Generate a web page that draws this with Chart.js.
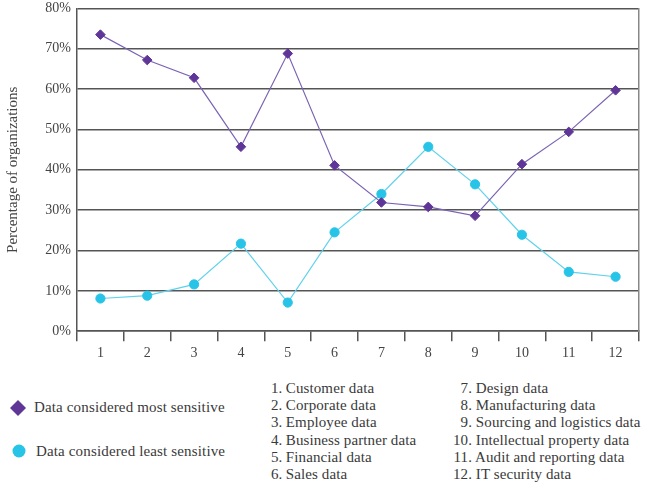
<!DOCTYPE html>
<html>
<head>
<meta charset="utf-8">
<script src="https://cdn.jsdelivr.net/npm/chart.js@4"></script>
<style>
  body { margin: 0; background: #fff; font-family: "Liberation Serif", serif; color: #3a3a3a; overflow: hidden; }
  #wrap { position: relative; width: 645px; height: 492px; overflow: hidden; }
  #chartBox { position: absolute; left: 0; top: -6px; width: 645px; height: 372px; }
  .leg { position: absolute; font-size: 15px; letter-spacing: 0.15px; white-space: nowrap; line-height: 18px; }
  .mark { position: absolute; }
  .list { position: absolute; font-size: 15px; letter-spacing: 0.1px; line-height: 17.2px; white-space: nowrap; }
  .list .n { display: inline-block; text-align: right; }
</style>
</head>
<body>
<div id="wrap">
  <div id="chartBox"><canvas id="chart"></canvas></div>
  <div id="legend"></div>
  <div id="list1" class="list" style="left:271px; top:380px;"></div>
  <div id="list2" class="list" style="left:451px; top:380px;"></div>
</div>
<script>
const categories = ['1', '2', '3', '4', '5', '6', '7', '8', '9', '10', '11', '12'];
const categoryNames = ['Customer data', 'Corporate data', 'Employee data', 'Business partner data',
  'Financial data', 'Sales data', 'Design data', 'Manufacturing data',
  'Sourcing and logistics data', 'Intellectual property data', 'Audit and reporting data', 'IT security data'];
const mostSensitive = [73.5, 67.2, 62.8, 45.7, 68.8, 41.1, 31.9, 30.8, 28.6, 41.4, 49.4, 59.7];
const leastSensitive = [8.1, 8.8, 11.6, 21.7, 7.1, 24.5, 34.0, 45.7, 36.4, 23.9, 14.7, 13.5];
const yTicks = [0, 10, 20, 30, 40, 50, 60, 70, 80];

const purple = '#5f3597';
const cyan = '#27c4e8';

// category list under the chart
function fillList(id, from, to, numWidth) {
  let html = '';
  for (let i = from; i < to; i++) {
    html += `<div><span class="n" style="width:${numWidth}px">${i + 1}.</span> ${categoryNames[i]}</div>`;
  }
  document.getElementById(id).innerHTML = html;
}
fillList('list1', 0, 6, 11);
fillList('list2', 6, 12, 21);

// series legend on the left
document.getElementById('legend').innerHTML =
  `<svg class="mark" style="left:10px; top:400px" width="16" height="16"><polygon points="8,0 16,8 8,16 0,8" fill="${purple}"/></svg>
   <div class="leg" style="left:34px; top:398px">Data considered most sensitive</div>
   <svg class="mark" style="left:12px; top:444px" width="14" height="14"><circle cx="7" cy="7" r="6.5" fill="${cyan}"/></svg>
   <div class="leg" style="left:36px; top:442px">Data considered least sensitive</div>`;

const ctx = document.getElementById('chart').getContext('2d');
new Chart(ctx, {
  type: 'line',
  data: {
    labels: categories,
    datasets: [
      {
        label: 'Data considered most sensitive',
        data: mostSensitive,
        borderColor: '#7b63b3',
        backgroundColor: purple,
        pointBackgroundColor: purple,
        pointBorderColor: purple,
        borderWidth: 1.2,
        pointBorderWidth: 1,
        pointStyle: 'rectRot',
        pointRadius: 4.8,
        tension: 0
      },
      {
        label: 'Data considered least sensitive',
        data: leastSensitive,
        borderColor: '#5fd2ec',
        backgroundColor: cyan,
        pointBackgroundColor: cyan,
        pointBorderColor: cyan,
        borderWidth: 1.2,
        pointBorderWidth: 1,
        pointStyle: 'circle',
        pointRadius: 4.6,
        tension: 0
      }
    ]
  },
  options: {
    responsive: true,
    maintainAspectRatio: false,
    animation: false,
    layout: { padding: { top: 0, right: 6, left: 4, bottom: 0 } },
    plugins: {
      legend: { display: false },
      tooltip: { enabled: false }
    },
    scales: {
      x: {
        offset: true,
        grid: {
          offset: true,
          drawOnChartArea: false,
          drawTicks: true,
          tickLength: 10,
          color: '#555',
          lineWidth: 1.5
        },
        border: { display: true, color: '#555', width: 1.5 },
        ticks: {
          color: '#444',
          font: { family: 'Liberation Serif', size: 14 },
          padding: 4,
          maxRotation: 0
        }
      },
      y: {
        min: 0,
        max: 80,
        afterBuildTicks: axis => { axis.ticks = yTicks.map(v => ({ value: v })); },
        afterFit: axis => { axis.width = 73; },
        grid: { color: '#555', lineWidth: 1.5, drawTicks: false },
        border: { display: true, color: '#555', width: 1.5 },
        ticks: {
          color: '#444',
          font: { family: 'Liberation Serif', size: 14 },
          padding: 6,
          callback: v => v + '%'
        },
        title: {
          display: true,
          text: 'Percentage of organizations',
          color: '#444',
          font: { family: 'Liberation Serif', size: 15 },
          padding: { top: 0, bottom: 5 }
        }
      },
      y2: {
        position: 'right',
        min: 0,
        max: 80,
        ticks: { display: false },
        grid: { display: false, drawTicks: false },
        border: { display: true, color: '#888', width: 1.5 }
      }
    }
  }
});
</script>
</body>
</html>
